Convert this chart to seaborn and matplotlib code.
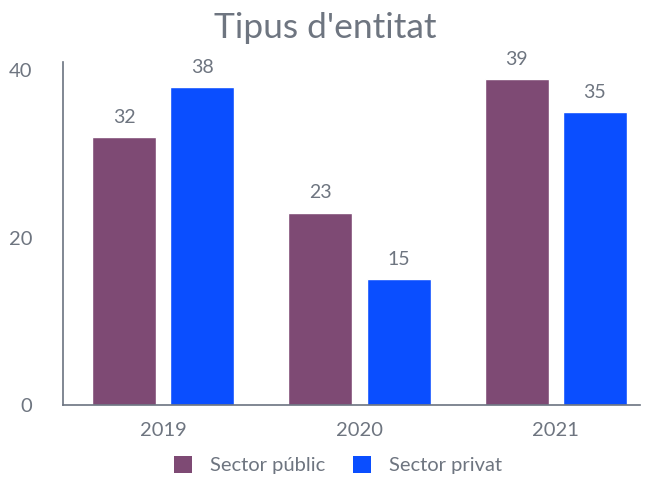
import pandas as pd
import seaborn as sns
import matplotlib
matplotlib.use("Agg")
from matplotlib import pyplot as plt
from matplotlib.patches import Patch

# data
years = ["2019", "2020", "2021"]
series = ["Sector públic", "Sector privat"]
publc = [32, 23, 39]
privat = [38, 15, 35]

df = pd.DataFrame({
    "year": years * 2,
    "sector": [series[0]] * 3 + [series[1]] * 3,
    "value": publc + privat,
})

colors = ["#7E4A74", "#0A4EFF"]
txt = "#6E7580"

sns.set_style("white")
plt.rcParams["font.family"] = ["Lato", "DejaVu Sans"]

fig = plt.figure(figsize=(6.5, 4.78), dpi=100)
ax = fig.add_axes([0.097, 0.153, 0.888, 0.717])

sns.barplot(data=df, x="year", y="value", hue="sector", palette=colors,
            width=0.796, gap=0.18, saturation=1, ax=ax, legend=False)

for cont in ax.containers:
    ax.bar_label(cont, padding=8, color=txt, fontsize=14)

ax.set_ylim(0, 41)
ax.set_xlim(-0.51, 2.43)
ax.set_yticks([0, 20, 40])
ax.set_xlabel("")
ax.set_ylabel("")
ax.tick_params(axis="both", colors=txt, labelsize=14.5, length=0)
ax.tick_params(axis="y", pad=22)
ax.tick_params(axis="x", pad=12)
sns.despine(ax=ax)
for s in ["left", "bottom"]:
    ax.spines[s].set_color("#6B7380")
    ax.spines[s].set_linewidth(1.2)

fig.suptitle("Tipus d'entitat", color=txt, fontsize=25.5, y=0.975)

handles = [Patch(facecolor=c, edgecolor="none") for c in colors]
fig.legend(handles, series, loc="lower center", ncol=2, frameon=False,
           bbox_to_anchor=(0.52, -0.03), fontsize=14.5, labelcolor=txt,
           handlelength=0.9, handleheight=0.9, handletextpad=0.9,
           columnspacing=1.4)

fig.savefig("out.png", dpi=100)
